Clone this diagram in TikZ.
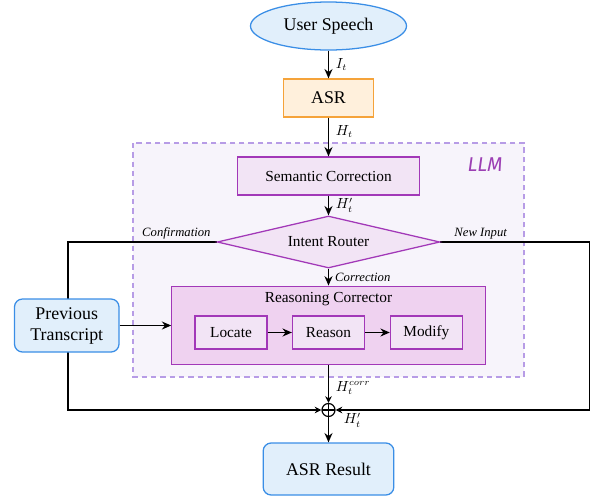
\documentclass[tikz,border=0pt]{standalone}
\usepackage{fontspec}
\setmainfont{Liberation Serif}
\newfontfamily\llmfont{Fira Sans}
\usepackage{tikz}
\usetikzlibrary{shapes.geometric,arrows.meta,backgrounds}
\definecolor{iofill}{HTML}{E1EFFB}
\definecolor{ioline}{HTML}{3A8EE6}
\definecolor{asrfill}{HTML}{FFF0DC}
\definecolor{asrline}{HTML}{F5A33A}
\definecolor{llmfill}{HTML}{F7F4FB}
\definecolor{llmframe}{HTML}{B79CE6}
\definecolor{boxfill}{HTML}{F2E4F5}
\definecolor{boxline}{HTML}{A238B8}
\definecolor{rcfill}{HTML}{EFD2F0}
\definecolor{llmtext}{HTML}{9C3FB4}
\newcommand{\bigsz}{\fontsize{13.4}{15.75}\selectfont}
\newcommand{\midsz}{\fontsize{11.5}{13.5}\selectfont}
\newcommand{\lblsz}{\fontsize{9.5}{11}\selectfont}
\newcommand{\mathsz}{\fontsize{10.5}{12}\selectfont}
\tikzset{
  io/.style={draw=ioline, fill=iofill, line width=0.95pt, inner sep=0pt, font=\bigsz},
  llmbox/.style={draw=boxline, fill=boxfill, line width=0.95pt, inner sep=0pt, font=\midsz},
  flow/.style={line width=1.1pt, -{Stealth[length=7pt,width=6pt]}},
  merge/.style={line width=1.1pt, -{Stealth[open,length=5pt,width=5pt]}},
  tag/.style={font=\lblsz\itshape, inner sep=1.5pt},
  sym/.style={font=\mathsz, inner sep=2pt}
}

\begin{document}
\begin{tikzpicture}[x=0.75pt, y=-0.75pt]
        \useasboundingbox (0, 0) rectangle (597, 497);
        \node (US)  at (328.5, 26)    [io, ellipse, minimum width=117pt, minimum height=36pt] {User Speech};
        \node (ASR) at (328.5, 98)    [io, draw=asrline, fill=asrfill, minimum width=68pt, minimum height=28.5pt] {ASR};
        \node (SC)  at (328.5, 176)   [llmbox, minimum width=137pt, minimum height=28.5pt] {Semantic Correction};
        \node (IR)  at (328.5, 242)   [llmbox, diamond, aspect=4.3, minimum width=167pt, minimum height=39pt] {Intent Router};
        \node (RC)  at (328.5, 325.5) [llmbox, fill=rcfill, minimum width=235pt, minimum height=59pt] {};
        \node (RCT) at (328.5, 299)   [font=\midsz] {Reasoning Corrector};
        \node (LOC) at (231, 332.5)   [llmbox, minimum width=54pt, minimum height=24.75pt] {Locate};
        \node (REA) at (328.5, 332.5) [llmbox, minimum width=54pt, minimum height=24.75pt] {Reason};
        \node (MOD) at (426.4, 332.5) [llmbox, minimum width=54pt, minimum height=24.75pt] {Modify};
        \node (PT)  at (66.75, 325.5) [io, rounded corners=6pt, align=center, minimum width=78.4pt, minimum height=39.75pt] {Previous\\Transcript};
        \node (SUM) at (328.5, 410)   [circle, draw, line width=0.9pt, minimum size=9.75pt, inner sep=0pt,
                path picture={\draw [line width=0.8pt] (path picture bounding box.north) -- (path picture bounding box.south)
                (path picture bounding box.west) -- (path picture bounding box.east);}] {};
        \node (RES) at (328.5, 469)   [io, rounded corners=6pt, minimum width=98pt, minimum height=39pt] {ASR Result};
        \node (LLM) at (485, 165)     [font={\llmfont\itshape\fontsize{15}{18}\selectfont}, text=llmtext] {LLM};
        \node (HP)  at (SUM.east)     [sym, anchor=north west, xshift=5pt, yshift=-1pt, inner sep=1pt] {$H'_t$};
        \coordinate (CT) at (67.8, 242);
        \coordinate (CB) at (67.8, 410);
        \coordinate (NT) at (589.5, 242);
        \coordinate (NB) at (589.5, 410);
        \begin{scope}[on background layer]
                \draw [draw=llmframe, fill=llmfill, line width=0.8pt, dash pattern=on 4pt off 3pt] (133, 143) rectangle (524, 377);
                \draw [merge] (IR.west) -- node [tag, above, pos=0.27] {Confirmation} (CT) -- (CB) -- (SUM);
                \draw [merge] (IR.east) -- node [tag, above, pos=0.27] {New Input} (NT) -- (NB) -- (SUM);
        \end{scope}
        \draw [flow]  (US)  -- node [sym, right, xshift=3pt] {$I_t$} (ASR);
        \draw [flow]  (ASR) -- node [sym, right, xshift=3pt, pos=0.35] {$H_t$} (SC);
        \draw [flow]  (SC)  -- node [sym, right, xshift=3pt] {$H'_t$} (IR);
        \draw [flow]  (IR)  -- node [tag, right, xshift=3pt] {Correction} (RC);
        \draw [flow]  (PT)  -- (RC);
        \draw [flow]  (LOC) -- (REA);
        \draw [flow]  (REA) -- (MOD);
        \draw [merge] (RC)  -- node [sym, right, xshift=3pt, pos=0.6] {$H_t^{corr}$} (SUM);
        \draw [flow]  (SUM) -- (RES);
\end{tikzpicture}
\end{document}
